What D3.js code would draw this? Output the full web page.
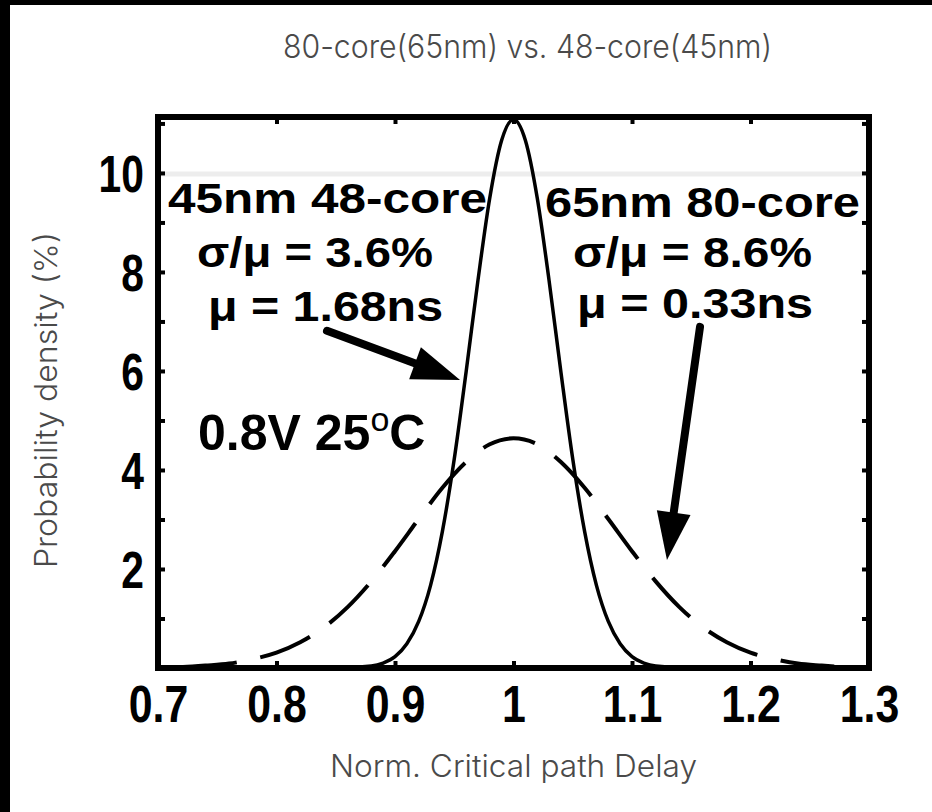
<!DOCTYPE html>
<html>
<head>
<meta charset="utf-8">
<script src="https://cdn.jsdelivr.net/npm/d3@7"></script>
<style>
  html, body { margin: 0; padding: 0; background: #fff; overflow: hidden; }
  svg { display: block; }
</style>
</head>
<body>
<svg id="chart" width="932" height="812"></svg>
<script>
// Normalised critical-path delay samples and probability density (%)
const solidX = [0.70, 0.80, 0.85, 0.88, 0.89, 0.90, 0.91, 0.92, 0.93, 0.94, 0.95, 0.96, 0.97, 0.98, 0.99,
                1.00, 1.01, 1.02, 1.03, 1.04, 1.05, 1.06, 1.07, 1.08, 1.09, 1.10, 1.11, 1.12, 1.15, 1.20, 1.30];
const solidY = [0.00, 0.00, 0.00, 0.04, 0.10, 0.23, 0.49, 0.94, 1.67, 2.76, 4.22, 5.98, 7.83, 9.50, 10.66,
                11.08, 10.66, 9.50, 7.83, 5.98, 4.22, 2.76, 1.67, 0.94, 0.49, 0.23, 0.10, 0.04, 0.00, 0.00, 0.00];

const dashX = [0.70, 0.72, 0.74, 0.76, 0.78, 0.80, 0.82, 0.84, 0.86, 0.88, 0.90, 0.92, 0.94, 0.96, 0.98,
               1.00, 1.02, 1.04, 1.06, 1.08, 1.10, 1.12, 1.14, 1.16, 1.18, 1.20, 1.22, 1.24, 1.26, 1.28, 1.30];
const dashY = [0.01, 0.02, 0.05, 0.09, 0.18, 0.31, 0.52, 0.82, 1.23, 1.75, 2.36, 3.01, 3.64, 4.16, 4.52,
               4.64, 4.52, 4.16, 3.64, 3.01, 2.36, 1.75, 1.23, 0.82, 0.52, 0.31, 0.18, 0.09, 0.05, 0.02, 0.01];

const xTicks = [0.7, 0.8, 0.9, 1.0, 1.1, 1.2, 1.3];
const xTickLabels = ["0.7", "0.8", "0.9", "1", "1.1", "1.2", "1.3"];
const yTicks = [1, 2, 3, 4, 5, 6, 7, 8, 9, 10, 11];
const yTickLabels = ["", "2", "", "4", "", "6", "", "8", "", "10", ""];

const title = "80-core(65nm) vs. 48-core(45nm)";
const xTitle = "Norm. Critical path Delay";
const yTitle = "Probability density (%)";

const svg = d3.select("#chart");
const W = 932, H = 812;

const x = d3.scaleLinear().domain([0.7, 1.3]).range([158, 869]);
const y = d3.scaleLinear().domain([0, 11.13]).range([668, 117]);

svg.append("rect").attr("width", W).attr("height", H).attr("fill", "#fff");
// dark frame strips along top and left edges
svg.append("rect").attr("x", 0).attr("y", 0).attr("width", W).attr("height", 5).attr("fill", "#000");
svg.append("rect").attr("x", 0).attr("y", 0).attr("width", 10).attr("height", H).attr("fill", "#000");

// faint guide at density 10
svg.append("line")
  .attr("x1", x(0.7)).attr("x2", x(1.3))
  .attr("y1", y(10) + 1).attr("y2", y(10) + 1)
  .attr("stroke", "#ededed").attr("stroke-width", 5);

const boldFont = "'Liberation Sans', Arial, sans-serif";
const lightFont = "Inter, Roboto, sans-serif";

// axes: inward ticks on all four sides
const fmtX = d => xTickLabels[xTicks.indexOf(d)];
const fmtY = d => yTickLabels[yTicks.indexOf(d)];

const gx = svg.append("g").attr("transform", `translate(0,${y(0)})`)
  .call(d3.axisBottom(x).tickValues(xTicks).tickSize(-7).tickFormat(fmtX));
const gxt = svg.append("g").attr("transform", `translate(0,${y(11.13)})`)
  .call(d3.axisTop(x).tickValues(xTicks).tickSize(-7).tickFormat(""));
const gy = svg.append("g").attr("transform", `translate(${x(0.7)},0)`)
  .call(d3.axisLeft(y).tickValues(yTicks).tickSize(-7).tickFormat(fmtY));
const gyr = svg.append("g").attr("transform", `translate(${x(1.3)},0)`)
  .call(d3.axisRight(y).tickValues(yTicks).tickSize(-7).tickFormat(""));

[gx, gxt, gy, gyr].forEach(g => {
  g.select(".domain").remove();
  g.selectAll(".tick line").attr("stroke", "#000").attr("stroke-width", 4);
});

// narrow, tall bold tick numerals
function condense(sel, k) {
  sel.each(function () {
    const w = this.getComputedTextLength();
    if (w > 0) d3.select(this).attr("textLength", w * k).attr("lengthAdjust", "spacingAndGlyphs");
  });
}

gx.selectAll(".tick text")
  .attr("y", 54).attr("dy", null)
  .attr("font-family", boldFont).attr("font-weight", "bold")
  .attr("font-size", 51).attr("fill", "#000")
  .call(condense, 0.84);
gy.selectAll(".tick text")
  .attr("x", -14).attr("dy", "0.36em")
  .attr("font-family", boldFont).attr("font-weight", "bold")
  .attr("font-size", 51).attr("fill", "#000")
  .call(condense, 0.8);

// plot frame
svg.append("rect")
  .attr("x", x(0.7)).attr("y", y(11.13))
  .attr("width", x(1.3) - x(0.7)).attr("height", y(0) - y(11.13))
  .attr("fill", "none").attr("stroke", "#000").attr("stroke-width", 6);

// density curves
const line = d3.line().x(d => x(d[0])).y(d => y(d[1])).curve(d3.curveMonotoneX);

const dashPath = svg.append("path")
  .datum(dashX.map((v, i) => [v, dashY[i]]))
  .attr("d", line)
  .attr("fill", "none").attr("stroke", "#000").attr("stroke-width", 4)
  .attr("stroke-dasharray", "54,24");

// shift the dash pattern so one dash sits across the peak
{
  const node = dashPath.node();
  const total = node.getTotalLength();
  let lo = 0, hi = total;
  const target = x(1.0) - 5;
  for (let i = 0; i < 40; i++) {
    const mid = (lo + hi) / 2;
    if (node.getPointAtLength(mid).x < target) lo = mid; else hi = mid;
  }
  dashPath.attr("stroke-dashoffset", -(lo - 27));
}

svg.append("path")
  .datum(solidX.map((v, i) => [v, solidY[i]]))
  .attr("d", line)
  .attr("fill", "none").attr("stroke", "#000").attr("stroke-width", 3.5);

// arrows (tail -> tip in data units)
const arrows = [
  { from: [0.8426, 6.81], to: [0.9549, 5.82] },
  { from: [1.1574, 6.89], to: [1.1295, 2.18] }
];
arrows.forEach(a => {
  const x0 = x(a.from[0]), y0 = y(a.from[1]);
  const x1 = x(a.to[0]), y1 = y(a.to[1]);
  const len = Math.hypot(x1 - x0, y1 - y0);
  const ux = (x1 - x0) / len, uy = (y1 - y0) / len;
  const headL = 48, headW = 17;
  const bx = x1 - ux * headL, by = y1 - uy * headL;
  svg.append("line")
    .attr("x1", x0).attr("y1", y0).attr("x2", bx + ux * 4).attr("y2", by + uy * 4)
    .attr("stroke", "#000").attr("stroke-width", 8).attr("stroke-linecap", "round");
  svg.append("path")
    .attr("d", `M${x1},${y1}L${bx - uy * headW},${by + ux * headW}L${bx + uy * headW},${by - ux * headW}Z`)
    .attr("fill", "#000");
});

// annotation text
const notes = [
  { t: "45nm 48-core", x: 168, y: 213, len: 319, fs: 42 },
  { t: "σ/μ = 3.6%", x: 197, y: 267, len: 236, fs: 42 },
  { t: "μ = 1.68ns", x: 208, y: 321, len: 235, fs: 42 },
  { t: "65nm 80-core", x: 545, y: 217, len: 315, fs: 43 },
  { t: "σ/μ = 8.6%", x: 573, y: 267, len: 239, fs: 42 },
  { t: "μ = 0.33ns", x: 577, y: 318, len: 236, fs: 42 }
];
notes.forEach(n => {
  svg.append("text")
    .attr("x", n.x).attr("y", n.y)
    .attr("font-family", boldFont).attr("font-weight", "bold").attr("font-size", n.fs)
    .attr("textLength", n.len).attr("lengthAdjust", "spacingAndGlyphs")
    .attr("fill", "#000").text(n.t);
});

const cond = svg.append("text")
  .attr("x", 198).attr("y", 450)
  .attr("font-family", boldFont).attr("font-weight", "bold").attr("font-size", 50)
  .attr("fill", "#000");
cond.append("tspan").text("0.8V 25");
cond.append("tspan").attr("dy", -19).attr("font-size", 34).attr("font-weight", "normal").text("o");
cond.append("tspan").attr("dy", 19).text("C");

// titles
svg.append("text")
  .attr("x", 283).attr("y", 58)
  .attr("font-family", lightFont).attr("font-weight", 300).attr("font-size", 32)
  .attr("textLength", 489).attr("lengthAdjust", "spacingAndGlyphs")
  .attr("fill", "#4a4a4a").text(title);

svg.append("text")
  .attr("x", 330).attr("y", 777)
  .attr("font-family", lightFont).attr("font-weight", 300).attr("font-size", 31)
  .attr("textLength", 367).attr("lengthAdjust", "spacingAndGlyphs")
  .attr("fill", "#4a4a4a").text(xTitle);

svg.append("text")
  .attr("transform", "translate(57,568) rotate(-90)")
  .attr("x", 0).attr("y", 0)
  .attr("font-family", lightFont).attr("font-weight", 300).attr("font-size", 31)
  .attr("textLength", 336).attr("lengthAdjust", "spacingAndGlyphs")
  .attr("fill", "#4a4a4a").text(yTitle);
</script>
</body>
</html>
